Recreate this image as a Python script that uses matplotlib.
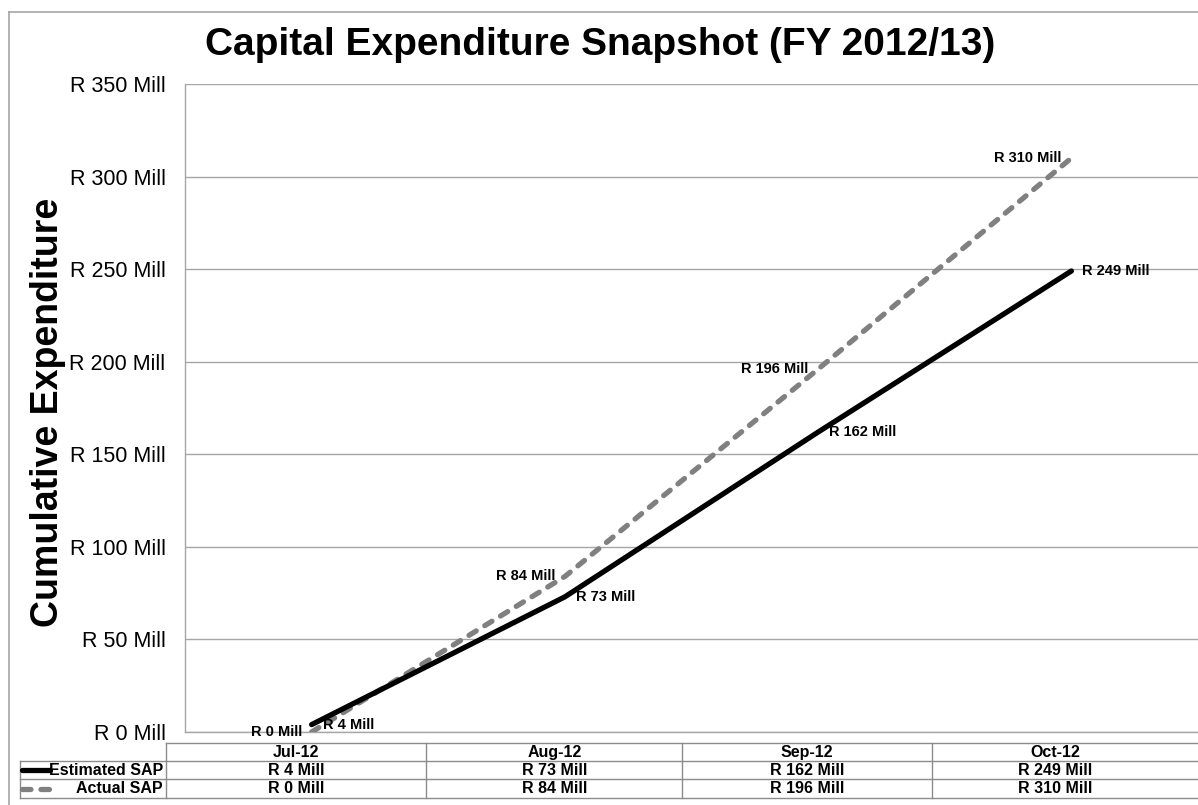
import matplotlib
matplotlib.use("Agg")
import matplotlib.pyplot as plt
from matplotlib.lines import Line2D

plt.rcParams['font.family'] = ['Liberation Sans', 'DejaVu Sans']

categories = ["Jul-12", "Aug-12", "Sep-12", "Oct-12"]
estimated = [4, 73, 162, 249]
actual = [0, 84, 196, 310]
series_names = ["Estimated SAP", "Actual SAP"]
yticks = [0, 50, 100, 150, 200, 250, 300, 350]

W, H = 1198, 805
fig = plt.figure(figsize=(W / 100, H / 100), dpi=100)

# main plot axes (pixel geometry)
px_left, px_right, px_top, px_bottom = 185, 1198, 84, 732
ax = fig.add_axes([px_left / W, (H - px_bottom) / H, (px_right - px_left) / W, (px_bottom - px_top) / H])
x = list(range(len(categories)))
ax.set_xlim(-0.5, len(categories) - 0.5)
ax.set_ylim(0, 350)
ax.set_yticks(yticks)
ax.set_yticklabels([f"R {v} Mill" for v in yticks], fontsize=15.5)
ax.tick_params(axis='y', length=0, pad=14)
ax.set_xticks([])
ax.grid(axis='y', color='#a6a6a6', linewidth=1)
ax.set_axisbelow(True)
for s in ['top', 'right']:
    ax.spines[s].set_visible(False)
for s in ['left', 'bottom']:
    ax.spines[s].set_color('#a6a6a6')
    ax.spines[s].set_linewidth(1)

gray = '#808080'
ax.plot(x, actual, color=gray, linewidth=3.8, dashes=(1.6, 1.9), dash_capstyle='round', zorder=3)
ax.plot(x, estimated, color='black', linewidth=3.8, solid_capstyle='round', zorder=4)

for xi, v in zip(x, estimated):
    ax.annotate(f"R {v} Mill", (xi, v), xytext=(8, 0), textcoords='offset points',
                ha='left', va='center', fontsize=10.5, fontweight='bold', zorder=5)
for xi, v in zip(x, actual):
    ax.annotate(f"R {v} Mill", (xi, v), xytext=(-7, 0), textcoords='offset points',
                ha='right', va='center', fontsize=10.5, fontweight='bold', zorder=5)

# overlay axes in pixel coordinates for title, border, table
ov = fig.add_axes([0, 0, 1, 1], zorder=-1)
ov.set_xlim(0, W)
ov.set_ylim(H, 0)
ov.axis('off')
ov.patch.set_alpha(0)

bc = '#a6a6a6'
ov.plot([9, W, ], [12, 12], color=bc, lw=1.2)
ov.plot([9, 9], [12, H], color=bc, lw=1.2)

fig.text(600 / W, 1 - 45 / H, "Capital Expenditure Snapshot (FY 2012/13)", ha='center', va='center',
         fontsize=28, fontweight='bold')
fig.text(48 / W, 1 - 412 / H, "Cumulative Expenditure", ha='center', va='center', rotation=90,
         fontsize=27, fontweight='bold')

# data table
tc = '#8c8c8c'
col_edges = [166, 426, 682, 932, W]
row_edges = [743, 761, 779, 798]
label_left = 20
# horizontal lines
ov.plot([col_edges[0], W], [row_edges[0], row_edges[0]], color=tc, lw=1)
for ry in row_edges[1:]:
    ov.plot([label_left, W], [ry, ry], color=tc, lw=1)
for cx in col_edges[:-1]:
    ov.plot([cx, cx], [row_edges[0], row_edges[-1]], color=tc, lw=1)
ov.plot([label_left, label_left], [row_edges[1], row_edges[-1]], color=tc, lw=1)

centers = [296, 555, 807, 1055]
for cx, c in zip(centers, categories):
    ov.text(cx, (row_edges[0] + row_edges[1]) / 2, c, ha='center', va='center', fontsize=11.5, fontweight='bold')
for r, vals in enumerate([estimated, actual]):
    cy = (row_edges[r + 1] + row_edges[r + 2]) / 2
    for cx, v in zip(centers, vals):
        ov.text(cx, cy, f"R {v} Mill", ha='center', va='center', fontsize=11.5, fontweight='bold')
    ov.text(163, cy, series_names[r], ha='right', va='center', fontsize=11.5, fontweight='bold')

cy0 = (row_edges[1] + row_edges[2]) / 2
cy1 = (row_edges[2] + row_edges[3]) / 2
ov.plot([22, 50], [cy0, cy0], color='black', lw=3.8, solid_capstyle='round')
ov.plot([22, 50], [cy1, cy1], color=gray, lw=3.8, dashes=(1.6, 1.9), dash_capstyle='round')

fig.savefig("out.png", dpi=100, facecolor='white')
